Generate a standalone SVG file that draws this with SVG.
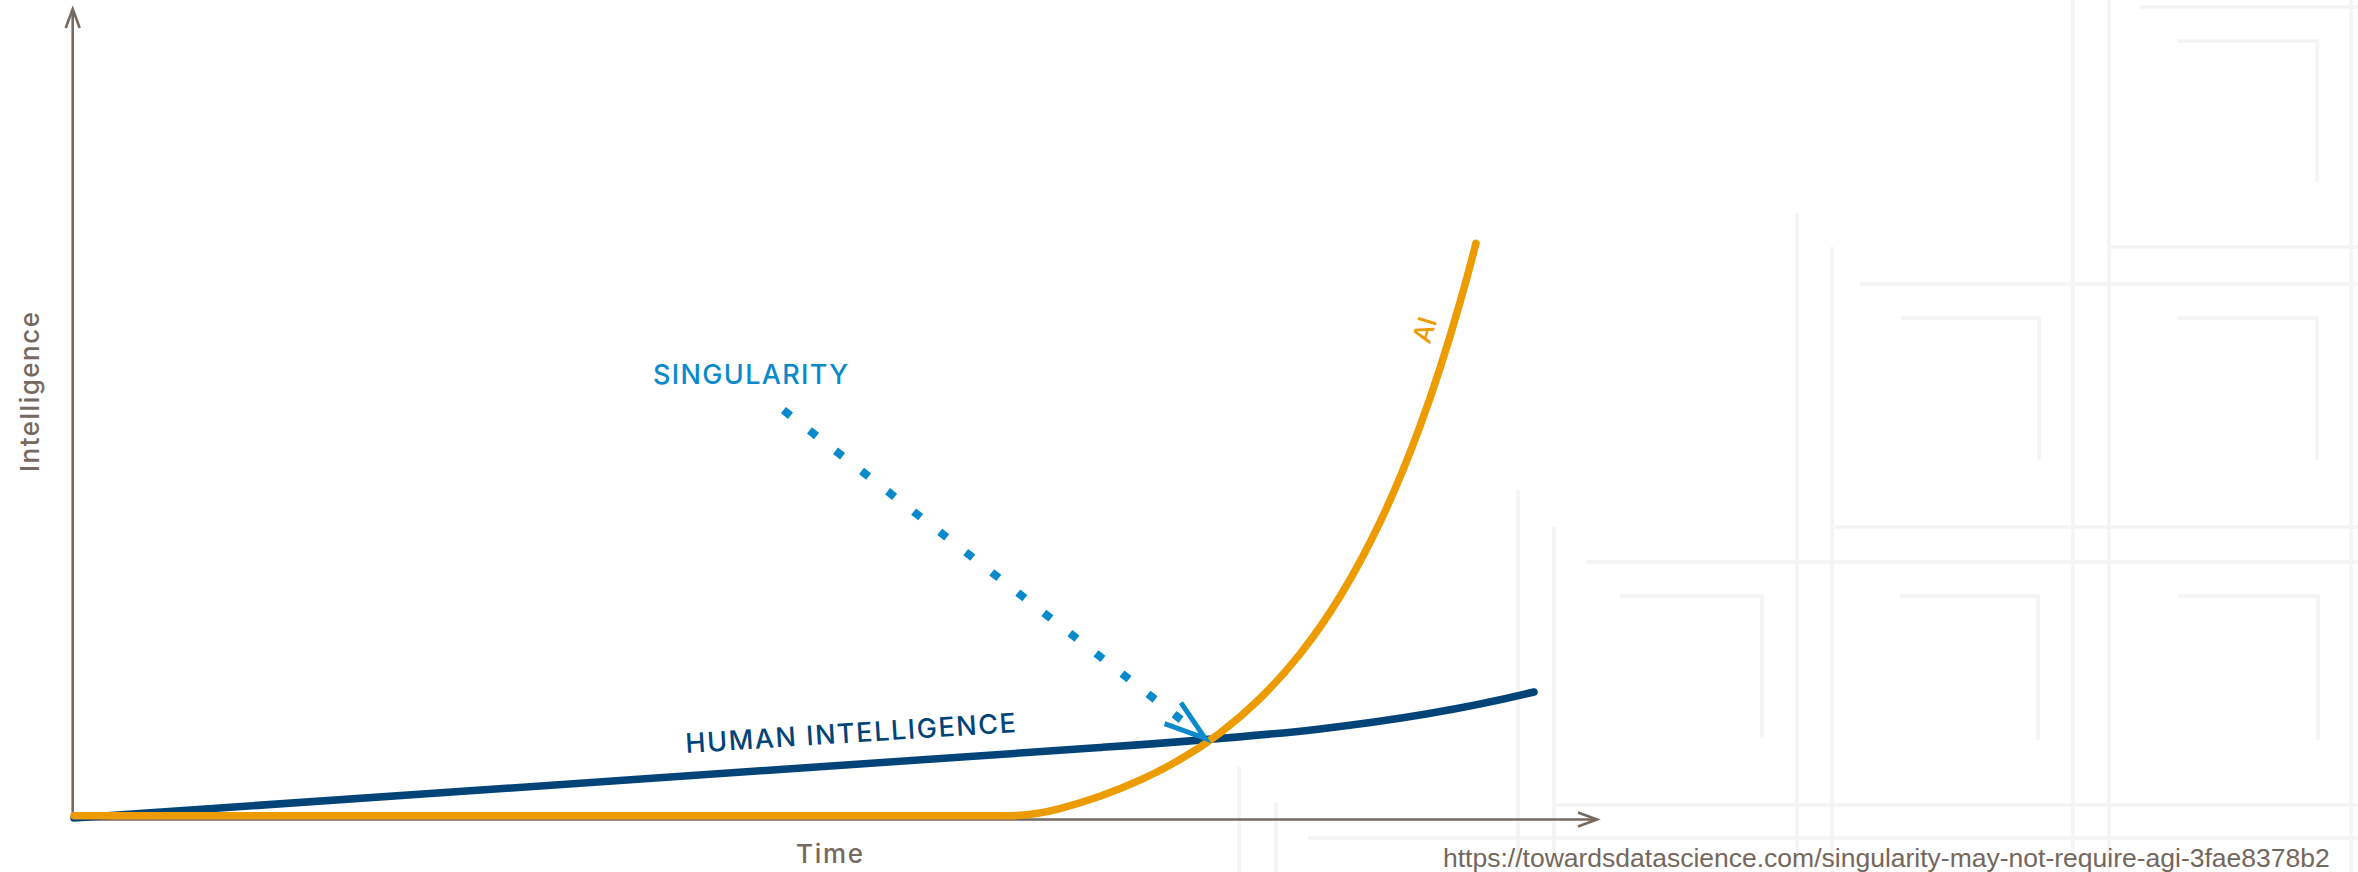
<svg xmlns="http://www.w3.org/2000/svg" width="2358" height="872" viewBox="0 0 2358 872">
  <style>
    .grid{stroke:#f4f4f4;stroke-width:3.5;fill:none}
    .axis{stroke:#76695f;stroke-width:2.6;fill:none}
    .axis-label{font-family:Inter,"Open Sans","Liberation Sans",sans-serif;font-size:26px;font-weight:500;fill:#76695f}
    .label{font-family:Inter,"Open Sans","Liberation Sans",sans-serif;font-weight:500}
    .curve{fill:none;stroke-width:7.5;stroke-linecap:round;stroke-linejoin:round}
  </style>
  <defs>
    <marker id="axisArrow" markerUnits="userSpaceOnUse" viewBox="-24 -12 28 24" refX="0" refY="0" markerWidth="28" markerHeight="24" orient="auto" overflow="visible">
      <path d="M-19,-7 L0,0 L-19,7" fill="none" stroke="#76695f" stroke-width="2.6"/>
    </marker>
  </defs>
  <rect width="2358" height="872" fill="#ffffff"/>

  <g id="background-grid" class="grid">
    <path d="M1239,767V872 M1276,803V872 M1518,490V872 M1554,527V872 M1797,213V872 M1832,247V872 M2073,0V872 M2109,0V872 M2351,0V872"/>
    <path d="M2140,7H2358 M2111,247H2358 M1860,284H2358 M1835,527H2358 M1587,562H2358 M1555,805H2358 M1308,838H2358"/>
    <path d="M2177,41H2317V182 M1901,318H2039V460 M2177,318H2317V460 M1620,596H1762V738 M1900,596H2038V740 M2177,596H2318V740"/>
  </g>

  <g id="axes">
    <path class="axis" d="M72.7,819.5 V9" marker-end="url(#axisArrow)"/>
    <path class="axis" d="M71.5,819.5 H1597" marker-end="url(#axisArrow)"/>
    <text class="axis-label" transform="translate(38.5,392) rotate(-90)" text-anchor="middle" textLength="160" lengthAdjust="spacing">Intelligence</text>
    <text class="axis-label" x="829.5" y="863" text-anchor="middle" textLength="67" lengthAdjust="spacing">Time</text>
  </g>

  <g id="human-intelligence">
    <path class="curve" stroke="#034478" d="M74,818 L1100,747.5 C1245,737.4 1389,727.5 1534,692"/>
    <text class="label" fill="#034478" font-size="27" transform="translate(686,753) rotate(-3.6)" textLength="331" lengthAdjust="spacing">HUMAN INTELLIGENCE</text>
  </g>

  <g id="ai">
    <path class="curve" stroke="#ec9b00" d="M74,815.8 L1005,815.8 Q1032.7,815.8 1060,808.6 C1073.33,804.98 1086.67,800.87 1100,796.2 C1113.33,791.53 1126.67,786.24 1140,780.2 C1153.33,774.16 1166.67,767.4 1180,759.6 C1193.33,751.8 1206.67,742.98 1220,732.9 C1233.33,722.82 1246.67,711.52 1260,698.5 C1273.33,685.48 1286.67,670.81 1300,654 C1313.33,637.19 1326.67,618.22 1340,596.5 C1353.33,574.78 1366.67,550.25 1380,522.2 C1393.33,494.15 1406.67,462.54 1420,426.3 C1433.33,390.06 1446.67,349.21 1460,302.4 C1465.33,283.67 1470.67,264.05 1476,243.3"/>
    <text class="label" fill="#ec9b00" font-size="26" text-anchor="middle" transform="translate(1433.6,332.6) rotate(-73)">AI</text>
  </g>

  <g id="singularity">
    <text class="label" fill="#0a89cb" font-size="27" x="653" y="384" textLength="195" lengthAdjust="spacing">SINGULARITY</text>
  </g>

  <g id="connectors">
    <path d="M783.4,410.2 L1182,720.4" fill="none" stroke="#0a89cb" stroke-width="8" stroke-dasharray="9 24"/>
    <path d="M1180.9,702.7 L1205,738.3 L1164.6,723.7" fill="none" stroke="#0a89cb" stroke-width="5"/>
  </g>

  <g id="source">
    <text x="1443" y="867" font-family="'Liberation Sans',Arial,sans-serif" font-size="26.5" fill="#74675d">https://towardsdatascience.com/singularity-may-not-require-agi-3fae8378b2</text>
  </g>
</svg>
